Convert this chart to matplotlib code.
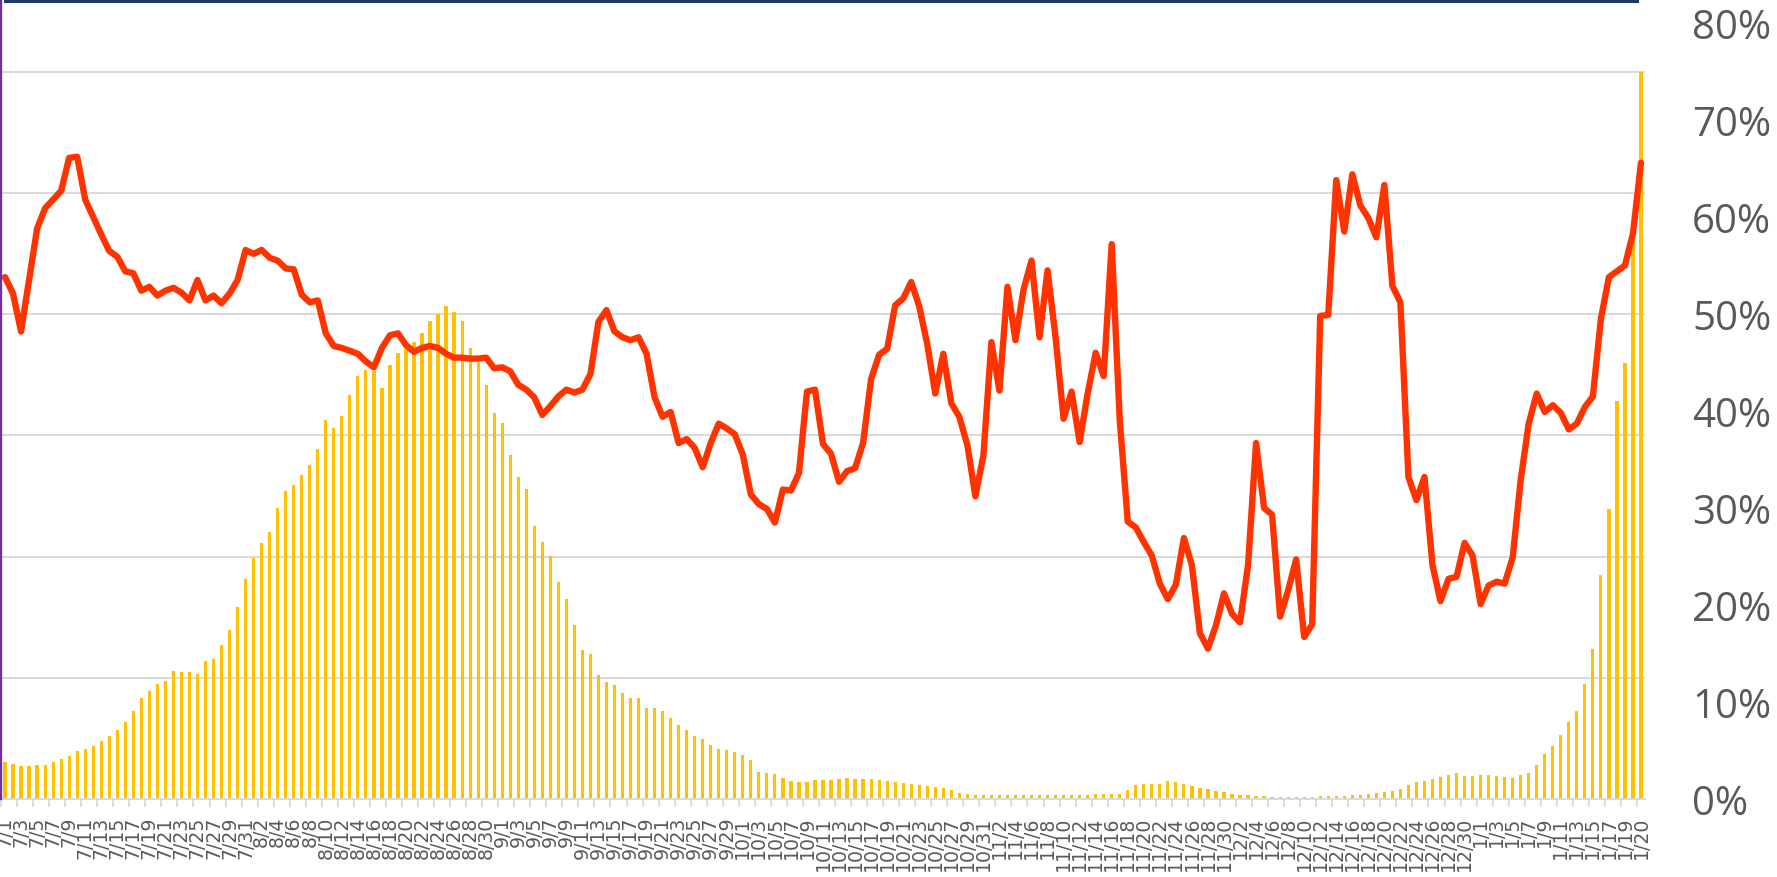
import matplotlib
matplotlib.use('Agg')
import matplotlib.pyplot as plt
import numpy as np
import pandas as pd
from matplotlib.lines import Line2D

# ---------------- data ----------------
dates = pd.date_range('2020-07-01', '2021-01-20', freq='D')
categories = [f"{d.month}/{d.day}" for d in dates] + ["1/20"]

# yellow bars (%)
bar_values = [
    3.8, 3.6, 3.4, 3.4, 3.5, 3.5, 3.8, 4.1, 4.4, 4.9,
    5.2, 5.5, 6.0, 6.5, 7.1, 7.9, 9.1, 10.4, 11.1, 11.9,
    12.2, 13.2, 13.1, 13.1, 12.9, 14.2, 14.4, 15.9, 17.4, 19.8,
    22.7, 24.8, 26.4, 27.5, 30.0, 31.8, 32.4, 33.4, 34.4, 36.1,
    39.1, 38.2, 39.5, 41.6, 43.6, 44.2, 44.1, 42.4, 44.7, 46.0,
    46.5, 47.1, 48.0, 49.3, 50.0, 50.8, 50.2, 49.3, 46.5, 45.1,
    42.7, 39.8, 38.8, 35.5, 33.2, 32.0, 28.1, 26.5, 25.1, 22.4,
    20.6, 17.9, 15.4, 14.9, 12.8, 12.1, 11.8, 10.9, 10.4, 10.4,
    9.4, 9.4, 9.1, 8.4, 7.6, 7.1, 6.5, 6.2, 5.6, 5.2,
    5.1, 4.8, 4.5, 4.0, 2.8, 2.7, 2.6, 2.2, 1.9, 1.8,
    1.8, 2.0, 2.0, 2.0, 2.1, 2.2, 2.1, 2.1, 2.1, 2.0,
    1.9, 1.8, 1.6, 1.5, 1.4, 1.3, 1.2, 1.1, 0.9, 0.6,
    0.5, 0.4, 0.4, 0.4, 0.4, 0.4, 0.4, 0.4, 0.4, 0.4,
    0.4, 0.4, 0.4, 0.4, 0.4, 0.4, 0.5, 0.5, 0.5, 0.5,
    0.9, 1.4, 1.5, 1.5, 1.5, 1.9, 1.8, 1.5, 1.3, 1.1,
    1.0, 0.8, 0.7, 0.5, 0.45, 0.4, 0.35, 0.3, 0.25, 0.25,
    0.25, 0.25, 0.25, 0.25, 0.3, 0.3, 0.3, 0.35, 0.4, 0.45,
    0.5, 0.6, 0.7, 0.8, 1.0,
    1.4, 1.8, 1.9, 2.1, 2.3, 2.5, 2.7, 2.4, 2.4, 2.5,
    2.5, 2.4, 2.3, 2.2, 2.5, 2.7, 3.5, 4.6, 5.5, 6.6,
    7.9, 9.1, 11.9, 15.5, 23.1, 29.9, 41.0, 45.0, 58.5, 75.0,
]

# red line (%)
line_values = [
    53.8, 52.1, 48.2, 53.5, 58.8, 60.9, 61.8, 62.7, 66.1, 66.2,
    61.8, 60.0, 58.2, 56.5, 55.9, 54.4, 54.2, 52.4, 52.8, 51.9,
    52.4, 52.7, 52.2, 51.4, 53.5, 51.4, 51.9, 51.1, 52.1, 53.5,
    56.6, 56.2, 56.6, 55.8, 55.5, 54.7, 54.6, 52.0, 51.2, 51.4,
    48.0, 46.7, 46.5, 46.2, 45.9, 45.1, 44.5, 46.5, 47.8, 48.0,
    46.8, 46.1, 46.5, 46.7, 46.5, 45.9, 45.5, 45.5, 45.4, 45.4,
    45.5, 44.4, 44.5, 44.1, 42.7, 42.2, 41.4, 39.6, 40.5, 41.5,
    42.2, 41.9, 42.2, 43.8, 49.2, 50.4, 48.2, 47.6, 47.3, 47.6,
    45.9, 41.4, 39.4, 39.9, 36.7, 37.1, 36.2, 34.2, 36.7, 38.7,
    38.2, 37.6, 35.5, 31.4, 30.4, 29.9, 28.5, 31.9, 31.8, 33.6,
    42.0, 42.2, 36.6, 35.6, 32.7, 33.8, 34.1, 36.7, 43.3, 45.8,
    46.4, 50.9, 51.6, 53.3, 50.8, 46.9, 41.8, 45.9, 40.8, 39.4,
    36.5, 31.2, 35.4, 47.1, 42.1, 52.8, 47.3, 52.5, 55.5, 47.6,
    54.5, 47.6, 39.2, 42.0, 36.8, 41.8, 46.0, 43.6, 57.2, 39.1,
    28.6, 28.0, 26.5, 25.1, 22.2, 20.6, 22.1, 26.9, 24.1, 17.1,
    15.5, 17.9, 21.2, 19.1, 18.2, 24.1, 36.7, 30.0, 29.3, 18.8,
    21.5, 24.7, 16.7, 18.0, 49.8, 49.9, 63.8, 58.5, 64.4, 61.2,
    59.9, 57.9, 63.3, 52.9, 51.2, 33.2, 30.8, 33.2, 24.1, 20.4,
    22.7, 22.9, 26.4, 25.1, 20.1, 22.0, 22.4, 22.2, 24.9, 32.9,
    38.7, 41.8, 39.9, 40.6, 39.8, 38.1, 38.7, 40.4, 41.5, 49.5,
    53.8, 54.4, 55.0, 58.3, 65.6,
]

y_ticks = [0.0, 0.1, 0.2, 0.3, 0.4, 0.5, 0.6, 0.7, 0.8]
y_tick_labels = ["0%", "10%", "20%", "30%", "40%", "50%", "60%", "70%", "80%"]
grid_levels = [0.125, 0.25, 0.375, 0.5, 0.625, 0.75]

# ---------------- figure ----------------
W, H = 1777, 878
fig = plt.figure(figsize=(W / 100, H / 100), dpi=100)
ax = fig.add_axes([1 / W, 78 / H, 1644 / W, 776 / H])

x = np.arange(len(categories))
ax.bar(x, np.array(bar_values) / 100, width=0.4, color='#FFC000', zorder=2)
ax.plot(x, np.array(line_values) / 100, color='#FF3300', lw=4.6, zorder=3,
        solid_joinstyle='round', solid_capstyle='round')

for g in grid_levels:
    ax.axhline(g, color='#D9D9D9', lw=1.4, zorder=1)

ax.set_xlim(-0.5, len(categories) - 0.5)
ax.set_ylim(0, 0.8)

# y axis on the right
ax.yaxis.tick_right()
ax.set_yticks(y_ticks)
ax.set_yticklabels(y_tick_labels, fontfamily='Open Sans')
ax.tick_params(axis='y', length=0, pad=34, labelsize=29, labelcolor='#595959')

# x axis
ax.set_xticks(x[::2])
ax.set_xticklabels(categories[::2], rotation=90, fontfamily='DejaVu Sans')
ax.set_xticks(np.arange(-0.5, len(categories), 2), minor=True)
ax.tick_params(axis='x', which='major', length=0, pad=12, labelsize=13.6,
               labelcolor='#595959')
ax.tick_params(axis='x', which='minor', length=5.8, width=1.2, color='#D9D9D9')

for s in ['top', 'right', 'left']:
    ax.spines[s].set_visible(False)
ax.spines['bottom'].set_color('#D9D9D9')
ax.spines['bottom'].set_linewidth(1.4)

# purple rule on the left edge (full height) and navy rule at the top
fig.add_artist(Line2D([1.2 / W, 1.2 / W], [78 / H, 1.0],
                      transform=fig.transFigure, color='#7030A0', lw=1.7))
fig.add_artist(Line2D([5 / W, 1637 / W], [1 - 1.5 / H, 1 - 1.5 / H],
                      transform=fig.transFigure, color='#1F3864', lw=2.2))

fig.savefig('out.png', dpi=100)
